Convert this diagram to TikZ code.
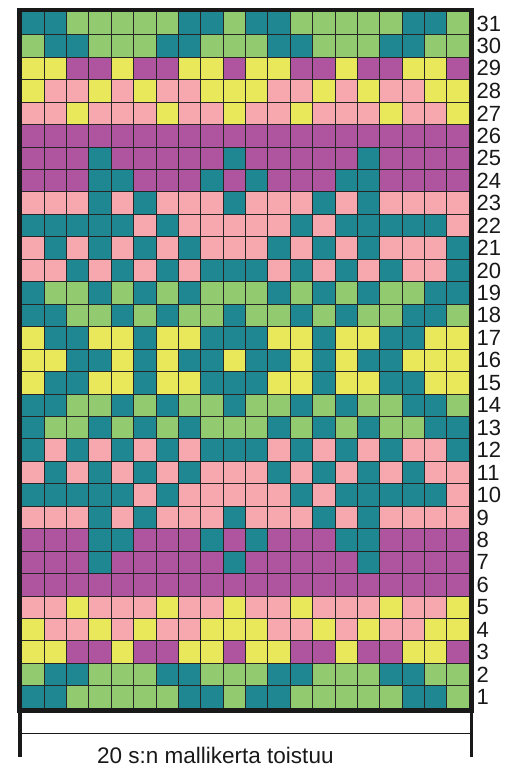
\documentclass[tikz,border=0pt]{standalone}
\usepackage{fontspec}
\setmainfont{Liberation Sans}
\definecolor{colT}{RGB}{31,135,145}
\definecolor{colG}{RGB}{146,203,111}
\definecolor{colY}{RGB}{233,232,90}
\definecolor{colM}{RGB}{175,84,158}
\definecolor{colP}{RGB}{246,168,174}
\def\cw{22.38}
\def\ch{22.45}
\def\gx{21.7}
\def\gy{12.3}
\newcommand\chartrow[2]{%
  \foreach \c [count=\i from 0] in {#2} {%
    \fill[col\c] ({\gx+\i*\cw},{\gy+(31-#1)*\ch}) rectangle ++(\cw,\ch);
  }%
}
\tikzset{
  gridline/.style={draw=black!85, line width=0.9pt},
  frameline/.style={draw=black!90, line width=4.5pt},
  legline/.style={draw=black!90, line width=3.3pt},
  thinline/.style={draw=black!90, line width=1.6pt},
  rowlab/.style={anchor=west, inner sep=0pt, font=\fontsize{22}{22}\selectfont, text=black!90},
  caption/.style={anchor=base west, inner sep=0pt, font=\fontsize{22.5}{22.5}\selectfont, text=black!90}
}
\begin{document}
\begin{tikzpicture}[x=1pt,y=-1pt]
\useasboundingbox (0,0) rectangle (513,767);
\chartrow{31}{T,T,G,G,G,G,G,T,T,G,T,T,G,G,G,G,G,T,T,G}
\chartrow{30}{G,T,T,G,G,G,T,T,G,G,G,T,T,G,G,G,T,T,G,G}
\chartrow{29}{Y,Y,M,M,Y,M,M,Y,Y,M,Y,Y,M,M,Y,M,M,Y,Y,M}
\chartrow{28}{Y,P,P,Y,P,Y,P,P,Y,Y,Y,P,P,Y,P,Y,P,P,Y,Y}
\chartrow{27}{P,P,Y,P,P,P,Y,P,P,Y,P,P,Y,P,P,P,Y,P,P,Y}
\chartrow{26}{M,M,M,M,M,M,M,M,M,M,M,M,M,M,M,M,M,M,M,M}
\chartrow{25}{M,M,M,T,M,M,M,M,M,T,M,M,M,M,M,T,M,M,M,M}
\chartrow{24}{M,M,M,T,T,M,M,M,T,M,T,M,M,M,T,T,M,M,M,M}
\chartrow{23}{P,P,P,T,P,T,P,P,P,T,P,P,P,T,P,T,P,P,P,P}
\chartrow{22}{T,T,T,T,T,P,T,P,P,P,P,P,T,P,T,T,T,T,T,P}
\chartrow{21}{P,T,P,T,P,T,P,T,P,P,P,T,P,T,P,T,P,P,P,T}
\chartrow{20}{P,P,T,P,T,P,T,P,T,T,T,P,T,P,T,P,T,P,P,T}
\chartrow{19}{T,G,G,T,G,T,G,T,G,G,G,T,G,T,G,T,G,G,T,T}
\chartrow{18}{T,T,G,G,T,G,T,G,G,T,G,G,T,G,T,G,G,T,T,G}
\chartrow{17}{Y,T,T,Y,Y,T,Y,Y,T,T,T,Y,Y,T,Y,Y,T,T,Y,Y}
\chartrow{16}{Y,Y,T,T,Y,T,Y,T,T,Y,T,T,Y,T,Y,T,T,Y,Y,Y}
\chartrow{15}{Y,T,T,Y,Y,T,Y,Y,T,T,T,Y,Y,T,Y,Y,T,T,Y,Y}
\chartrow{14}{T,T,G,G,T,G,T,G,G,T,G,G,T,G,T,G,G,T,T,G}
\chartrow{13}{T,G,G,T,G,T,G,T,G,G,G,T,G,T,G,T,G,G,T,T}
\chartrow{12}{T,P,T,P,T,P,T,P,T,T,T,P,T,P,T,P,T,P,P,T}
\chartrow{11}{P,T,P,T,P,T,P,T,P,P,P,T,P,T,P,T,P,T,P,P}
\chartrow{10}{T,T,T,T,T,P,T,P,P,P,P,P,T,P,T,T,T,T,T,P}
\chartrow{9}{P,P,P,T,P,T,P,P,P,T,P,P,P,T,P,T,P,P,P,P}
\chartrow{8}{M,M,M,T,T,M,M,M,T,M,T,M,M,M,T,T,M,M,M,M}
\chartrow{7}{M,M,M,T,M,M,M,M,M,T,M,M,M,M,M,T,M,M,M,M}
\chartrow{6}{M,M,M,M,M,M,M,M,M,M,M,M,M,M,M,M,M,M,M,M}
\chartrow{5}{P,P,Y,P,P,P,Y,P,P,Y,P,P,Y,P,P,P,Y,P,P,Y}
\chartrow{4}{Y,P,P,Y,P,Y,P,P,Y,Y,Y,P,P,Y,P,Y,P,P,Y,Y}
\chartrow{3}{Y,Y,M,M,Y,M,M,Y,Y,M,Y,Y,M,M,Y,M,M,Y,Y,M}
\chartrow{2}{G,T,T,G,G,G,T,T,G,G,G,T,T,G,G,G,T,T,G,G}
\chartrow{1}{T,T,G,G,G,G,G,T,T,G,T,T,G,G,G,G,G,T,T,G}
% grid
\foreach \i in {1,...,19} \draw[gridline] ({\gx+\i*\cw},\gy) -- ++(0,{31*\ch});
\foreach \j in {1,...,30} \draw[gridline] (\gx,{\gy+\j*\ch}) -- ++({20*\cw},0);
% frame
\coordinate (tl) at (19.5,10.1);
\coordinate (br) at (471.5,710.4);
\draw[frameline] (tl) rectangle (br);
\coordinate (ll) at (20,757);
\coordinate (lr) at (471.3,757);
\coordinate (lt) at (20,710.4);
\coordinate (rt) at (471.3,710.4);
\draw[legline] (lt) -- (ll);
\draw[legline] (rt) -- (lr);
\coordinate (hl) at (20,733.3);
\coordinate (hr) at (471.3,733.3);
\draw[thinline] (hl) -- (hr);
% row labels
\foreach \r in {1,...,31}
  \node[rowlab] (lab\r) at (476.5,{\gy+(31.5-\r)*\ch}) {\r};
\node[caption] (cap) at (97,763) {20 s:n mallikerta toistuu};
\end{tikzpicture}
\end{document}
